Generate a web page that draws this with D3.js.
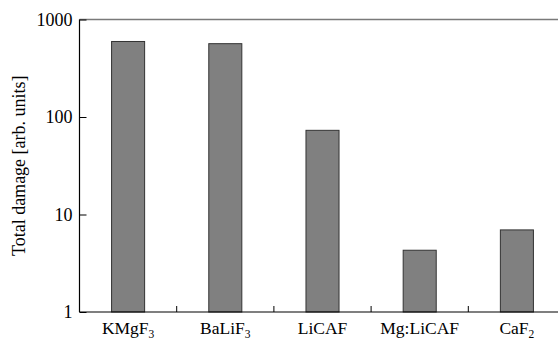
<!DOCTYPE html>
<html>
<head>
<meta charset="utf-8">
<script src="https://cdn.jsdelivr.net/npm/d3@7"></script>
<style>
  html, body { margin: 0; padding: 0; background: #fff; }
  svg { display: block; font-family: "Liberation Serif", "Times New Roman", serif; }
</style>
</head>
<body>
<div id="chart"></div>
<script>
    "use strict";

    // data
    const categories = ["KMgF3", "BaLiF3", "LiCAF", "Mg:LiCAF", "CaF2"];
    // label parts: [main text, subscript]
    const labelMain = ["KMgF", "BaLiF", "LiCAF", "Mg:LiCAF", "CaF"];
    const labelSub = ["3", "3", "", "", "2"];
    const damage = [595, 565, 73, 4.3, 6.95];
    const yTicks = [1, 10, 100, 1000];

    const width = 558, height = 342;
    const margin = { top: 19.5, right: -7.5, bottom: 30, left: 79.5 };

    const svg = d3.select("#chart").append("svg")
        .attr("width", width)
        .attr("height", height);

    const x = d3.scaleBand()
        .domain(categories)
        .range([margin.left, width - margin.right])
        .paddingInner(0.66)
        .paddingOuter(0.33);

    const y = d3.scaleLog()
        .domain([1, 1000])
        .range([height - margin.bottom, margin.top]);

    // top frame line (grey)
    svg.append("line")
        .attr("x1", margin.left).attr("x2", width)
        .attr("y1", y(1000)).attr("y2", y(1000))
        .attr("stroke", "#7a7a7a")
        .attr("stroke-width", 1.5);

    // bars
    svg.selectAll("rect.bar")
        .data(damage)
        .enter().append("rect")
        .attr("class", "bar")
        .attr("x", (d, i) => x(categories[i]))
        .attr("width", x.bandwidth())
        .attr("y", d => y(d))
        .attr("height", d => y(1) - y(d))
        .attr("fill", "#808080")
        .attr("stroke", "#333")
        .attr("stroke-width", 1);

    // y axis: ticks inside, labels outside
    const yAxis = svg.append("g")
        .attr("transform", `translate(${margin.left},0)`)
        .call(d3.axisLeft(y)
            .tickValues(yTicks)
            .tickFormat(d3.format("d"))
            .tickSizeInner(-7)
            .tickSizeOuter(0)
            .tickPadding(7));
    yAxis.select(".domain").remove();
    yAxis.selectAll("line").attr("stroke", "#000");
    yAxis.selectAll("text")
        .attr("font-family", "Liberation Serif, serif")
        .attr("font-size", 18)
        .attr("fill", "#000");

    svg.append("line")
        .attr("x1", margin.left).attr("x2", margin.left)
        .attr("y1", y(1000)).attr("y2", y(1))
        .attr("stroke", "#000")
        .attr("stroke-width", 1.2);

    // bottom axis line + boundary ticks between categories
    svg.append("line")
        .attr("x1", margin.left).attr("x2", width)
        .attr("y1", y(1)).attr("y2", y(1))
        .attr("stroke", "#000")
        .attr("stroke-width", 1.2);

    const step = x.step();
    svg.selectAll("line.xtick")
        .data(categories.slice(0, -1))
        .enter().append("line")
        .attr("class", "xtick")
        .attr("x1", d => x(d) + x.bandwidth() / 2 + step / 2)
        .attr("x2", d => x(d) + x.bandwidth() / 2 + step / 2)
        .attr("y1", y(1))
        .attr("y2", y(1) - 6)
        .attr("stroke", "#000");

    // category labels with subscripts
    const lab = svg.selectAll("text.cat")
        .data(categories)
        .enter().append("text")
        .attr("class", "cat")
        .attr("x", d => x(d) + x.bandwidth() / 2)
        .attr("y", 334)
        .attr("text-anchor", "middle")
        .attr("font-size", 17.5)
        .attr("fill", "#000");
    lab.append("tspan").text((d, i) => labelMain[i]);
    lab.append("tspan")
        .attr("font-size", 11.5)
        .attr("dy", 4)
        .text((d, i) => labelSub[i]);

    // y axis title
    svg.append("text")
        .attr("transform", `translate(25,${(y(1) + y(1000)) / 2}) rotate(-90)`)
        .attr("text-anchor", "middle")
        .attr("font-size", 18)
        .attr("fill", "#000")
        .text("Total damage [arb. units]");
</script>
</body>
</html>
